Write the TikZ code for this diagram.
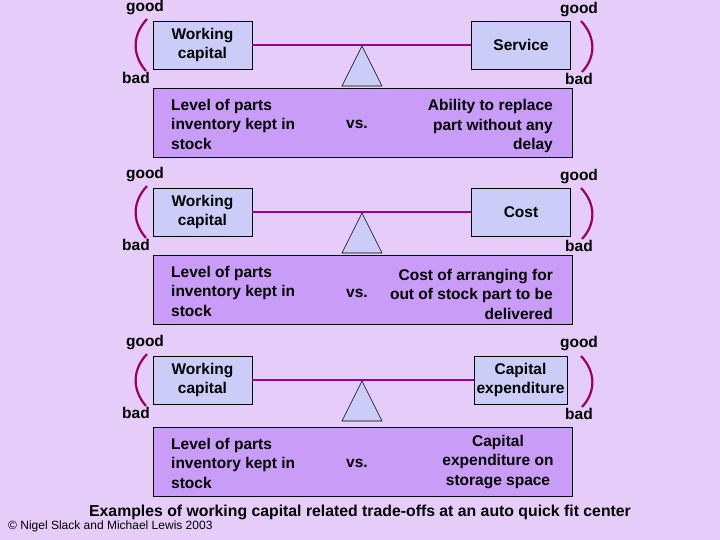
\documentclass[tikz,border=0pt]{standalone}
\usepackage{fontspec}
\setmainfont{Liberation Sans}
\begin{document}
\begin{tikzpicture}[x=1pt,y=-1pt,
  sbox/.style={draw=black,fill=smallc,line width=0.6pt,minimum width=99pt,minimum height=48pt,align=center,font=\bfseries\fontsize{15.5}{19}\selectfont,inner sep=1pt},
  bbox/.style={draw=black,fill=bigc,line width=0.6pt,minimum width=419pt,minimum height=69pt},
  lbl/.style={font=\bfseries\fontsize{15.5}{19}\selectfont,inner sep=0pt},
  txt/.style={font=\bfseries\fontsize{15.5}{19.5}\selectfont,inner sep=0pt},
  beam/.style={draw=beamc,line width=1.2pt},
  arc/.style={draw=arcc,line width=2.2pt}]
\definecolor{bgc}{HTML}{E6CCF8}
\definecolor{smallc}{HTML}{CCCCF8}
\definecolor{bigc}{HTML}{C99CF7}
\definecolor{beamc}{HTML}{990099}
\definecolor{arcc}{HTML}{990066}
\fill[bgc] (0,0) rectangle (720,540);
\useasboundingbox (0,0) rectangle (720,540);
\foreach \dy/\k/\e in {0/a/0,167/b/0,335/c/4}{
 \begin{scope}[yshift=-\dy]
 \draw[arc] (147,19) .. controls (132,35) and (132,55) .. (146,71);
 \draw[arc] (581,21) .. controls (596,37) and (596,57) .. (582,72);
 \node[sbox] (wc\k) at (202.5,45) {Working\\capital};
 \draw[fill=smallc,line width=0.6pt] (362,46) -- (382,86) -- (342,86) -- cycle;
 \node[bbox] (bb\k) at (362.5,122.5+\e) {};
 \node[txt,align=left,anchor=west] (lt\k) at (171,124+\e) {Level of parts\\inventory kept in\\stock};
 \end{scope}}
% Panel 1
\node[lbl] at (145,8) {good};
\node[lbl] at (579,10) {good};
\node[lbl] at (136,78) {bad};
\node[lbl] at (579,79) {bad};
\node[sbox] (ra) at (521,45) {Service};
\draw[beam] (wca.east) -- (ra.west);
\node[txt] (vsa) at (357,124) {vs.};
\node[txt,align=right,anchor=east] (rta) at (553,126) {Ability to replace\\part without any\\delay};
% Panel 2
\node[lbl] at (145,175) {good};
\node[lbl] at (579,177) {good};
\node[lbl] at (136,245) {bad};
\node[lbl] at (579,246) {bad};
\node[sbox] (rb) at (521,212) {Cost};
\draw[beam] (wcb.east) -- (rb.west);
\node[txt] (vsb) at (357,293) {vs.};
\node[txt,align=right,anchor=east] (rtb) at (553,294) {Cost of arranging for\\out of stock part to be\\delivered};
% Panel 3
\node[lbl] at (145,343) {good};
\node[lbl] at (579,344) {good};
\node[lbl] at (136,413) {bad};
\node[lbl] at (579,414) {bad};
\node[sbox,minimum width=93pt] (rc) at (520.5,380) {Capital\\expenditure};
\draw[beam] (wcc.east) -- (rc.west);
\node[txt] (vsc) at (357,463) {vs.};
\node[txt,align=center] (rtc) at (498,462) {Capital\\expenditure on\\storage space};
\node[font=\bfseries\fontsize{15.8}{19}\selectfont,inner sep=0pt] (cap) at (360,512) {Examples of working capital related trade-offs at an auto quick fit center};
\node[font=\fontsize{12}{14}\selectfont,inner sep=0pt,anchor=west] (copy) at (8,526) {\textcopyright{} Nigel Slack and Michael Lewis 2003};
\end{tikzpicture}
\end{document}
